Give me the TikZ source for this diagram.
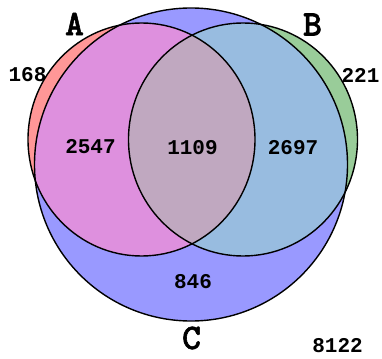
\documentclass[tikz,border=0pt]{standalone}
\usepackage{fontspec}
\setmonofont{Liberation Mono}
\newfontfamily\setfont{lmmonolt10-bold}[Extension=.otf, FakeBold=1.5]
\definecolor{cBlue}{HTML}{9999FF}
\definecolor{cRed}{HTML}{FF9797}
\definecolor{cGreen}{HTML}{99CC99}
\definecolor{cPink}{HTML}{DE90DE}
\definecolor{cLBlue}{HTML}{98BCE0}
\definecolor{cMauve}{HTML}{C0A8C0}
\tikzset{
  num/.style={font=\ttfamily\bfseries\fontsize{21}{21}\selectfont, inner sep=0pt},
  setlab/.style={font=\setfont\fontsize{36}{36}\selectfont, inner sep=0pt},
  outline/.style={draw=black, line width=1.4pt}
}
\begin{document}
\begin{tikzpicture}[x=1pt,y=-1pt]
\useasboundingbox (0,0) rectangle (382,358);
\def\pathC{(191,164.5) circle [radius=156.5]}
\def\pathA{(141.5,139.5) ellipse [x radius=113.5, y radius=116.5]}
\def\pathB{(243,139.5) ellipse [x radius=114.5, y radius=116.5]}
% base fills
\fill[cBlue] \pathC;
\fill[cRed] \pathA;
\fill[cGreen] \pathB;
\begin{scope}
  \clip \pathC;
  \fill[cPink] \pathA;
  \fill[cLBlue] \pathB;
\end{scope}
\begin{scope}
  \clip \pathA;
  \fill[cMauve] \pathB;
\end{scope}
% outlines
\draw[outline] \pathC;
\draw[outline] \pathA;
\draw[outline] \pathB;
% labels
\node[setlab] (lA) at (74.5,24) {A};
\node[setlab] (lB) at (312.5,24.5) {B};
\node[setlab] (lC) at (191.5,338) {C};
\node[num] (nA) at (27.5,75) {168};
\node[num] (nB) at (360.5,75) {221};
\node[num] (nAC) at (90.5,147) {2547};
\node[num] (nABC) at (192.5,148) {1109};
\node[num] (nBC) at (293,148) {2697};
\node[num] (nC) at (193,282) {846};
\node[num] (nO) at (337.5,346) {8122};
\end{tikzpicture}
\end{document}
